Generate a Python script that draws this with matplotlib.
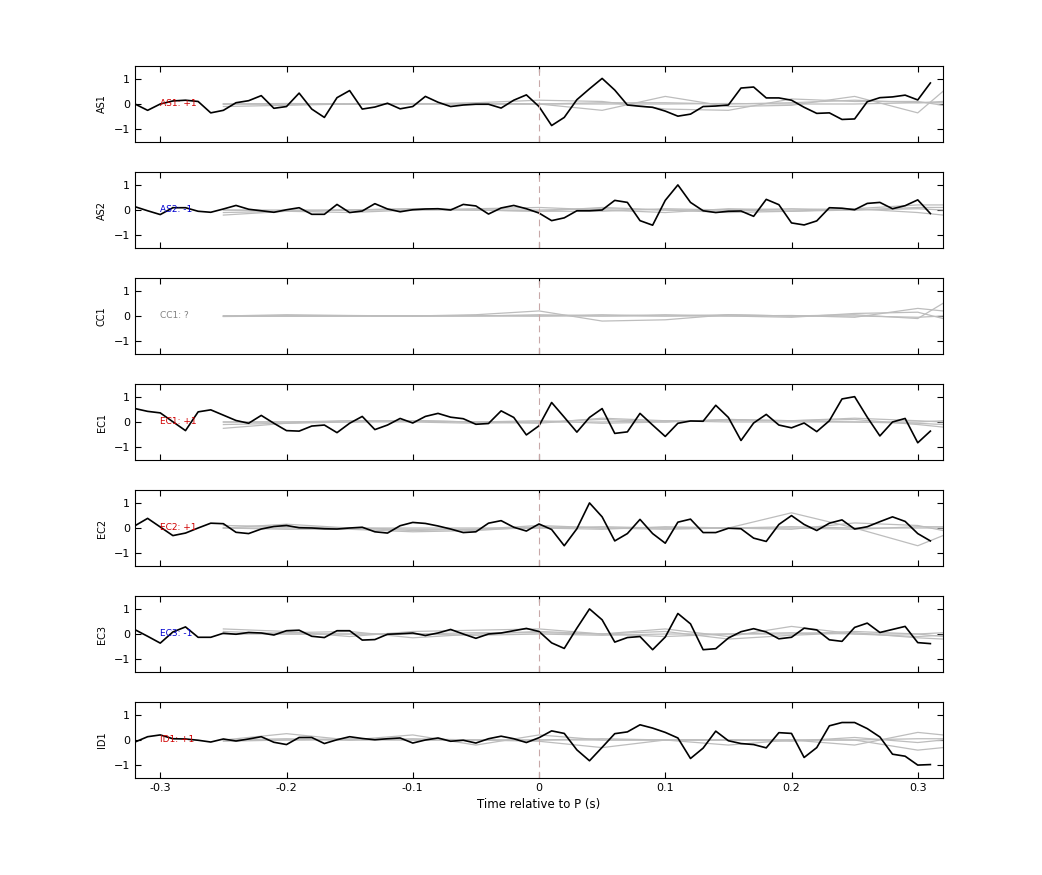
import numpy as np
import matplotlib
matplotlib.use("Agg")
import matplotlib.pyplot as plt

stations = ["AS1", "AS2", "CC1", "EC1", "EC2", "EC3", "ID1"]
labels = ["AS1: +1", "AS2: -1", "CC1: ?", "EC1: +1", "EC2: +1", "EC3: -1", "ID1: +1"]
label_colors = ["#d00000", "#0000d0", "#808080", "#d00000", "#d00000", "#0000d0", "#d00000"]

t_black = np.round(np.arange(-0.32, 0.315, 0.01), 2)

as1 = [0, -0.25, 0, 0.12, 0.15, 0.1, -0.35, -0.25, 0.05, 0.13, 0.33, -0.17, -0.1, 0.43, -0.2, -0.53,
       0.25, 0.53, -0.2, -0.12, 0.03, -0.19, -0.1, 0.3, 0.07, -0.1, -0.04, -0.01, -0.01, -0.16, 0.15, 0.36,
       -0.1, -0.85, -0.53, 0.17, 0.6, 1.01, 0.55, -0.04, -0.09, -0.13, -0.28, -0.48, -0.4, -0.1, -0.08, -0.04,
       0.63, 0.67, 0.24, 0.24, 0.15, -0.13, -0.37, -0.35, -0.61, -0.59, 0.09, 0.25, 0.28, 0.35, 0.16, 0.83]
as2 = [0.13, -0.03, -0.18, 0.09, 0.09, -0.05, -0.09, 0.04, 0.18, 0.03, -0.03, -0.09, 0.01, 0.09, -0.17, -0.17,
       0.22, -0.1, -0.04, 0.25, 0.04, -0.07, 0.01, 0.04, 0.05, 0, 0.22, 0.16, -0.16, 0.08, 0.18, 0.05,
       -0.12, -0.42, -0.31, -0.03, -0.03, 0, 0.38, 0.3, -0.42, -0.6, 0.38, 0.99, 0.3, -0.03, -0.1, -0.05,
       -0.04, -0.25, 0.42, 0.21, -0.51, -0.59, -0.43, 0.09, 0.07, 0.01, 0.26, 0.3, 0.05, 0.17, 0.4, -0.14]
ec1 = [0.53, 0.42, 0.36, 0.01, -0.34, 0.4, 0.48, 0.27, 0.06, -0.05, 0.26, -0.05, -0.34, -0.36, -0.16, -0.12,
       -0.42, -0.05, 0.22, -0.3, -0.12, 0.14, -0.04, 0.22, 0.34, 0.19, 0.13, -0.09, -0.06, 0.44, 0.18, -0.51,
       -0.15, 0.77, 0.19, -0.4, 0.18, 0.53, -0.45, -0.39, 0.34, -0.12, -0.57, -0.05, 0.04, 0.03, 0.66, 0.18,
       -0.73, -0.04, 0.3, -0.12, -0.23, -0.04, -0.38, 0.05, 0.91, 1.0, 0.19, -0.55, 0, 0.14, -0.82, -0.36]
ec2 = [0.09, 0.38, 0.04, -0.3, -0.2, 0, 0.19, 0.17, -0.17, -0.22, -0.04, 0.06, 0.1, 0.01, 0, -0.03,
       -0.04, 0, 0.03, -0.15, -0.2, 0.09, 0.22, 0.18, 0.08, -0.04, -0.18, -0.15, 0.19, 0.29, 0.03, -0.12,
       0.16, -0.06, -0.7, -0.03, 0.99, 0.44, -0.51, -0.22, 0.34, -0.22, -0.6, 0.23, 0.35, -0.18, -0.18, -0.01,
       -0.03, -0.4, -0.53, 0.14, 0.49, 0.14, -0.1, 0.19, 0.32, -0.04, 0.05, 0.25, 0.44, 0.26, -0.22, -0.51]
ec3 = [0.17, -0.09, -0.36, 0.08, 0.28, -0.13, -0.13, 0.03, -0.01, 0.06, 0.04, -0.04, 0.13, 0.15, -0.09, -0.14,
       0.13, 0.13, -0.24, -0.22, -0.01, 0.01, 0.04, -0.06, 0.04, 0.18, 0, -0.17, 0, 0.04, 0.13, 0.22,
       0.1, -0.35, -0.57, 0.23, 0.99, 0.56, -0.32, -0.14, -0.1, -0.62, -0.12, 0.81, 0.4, -0.62, -0.58, -0.16,
       0.09, 0.21, 0.08, -0.19, -0.13, 0.23, 0.16, -0.23, -0.29, 0.26, 0.43, 0.06, 0.18, 0.3, -0.34, -0.38]
id1 = [-0.08, 0.13, 0.2, 0.05, 0.04, -0.01, -0.08, 0.04, -0.04, 0.04, 0.13, -0.09, -0.18, 0.1, 0.1, -0.14,
       0.01, 0.13, 0.06, 0.01, 0.05, 0.08, -0.12, 0, 0.08, -0.05, -0.01, -0.12, 0.05, 0.15, 0.05, -0.1,
       0.09, 0.36, 0.26, -0.39, -0.82, -0.29, 0.25, 0.32, 0.6, 0.47, 0.3, 0.08, -0.73, -0.32, 0.35, -0.03,
       -0.14, -0.18, -0.31, 0.29, 0.26, -0.69, -0.3, 0.56, 0.69, 0.69, 0.45, 0.12, -0.56, -0.64, -0.99, -0.97]
black_series = [as1, as2, None, ec1, ec2, ec3, id1]

# gray comparison traces, sampled every 0.05 s from -0.25 to 0.30, plus 0.32
t_gray = [-0.25, -0.20, -0.15, -0.10, -0.05, 0.0, 0.05, 0.10, 0.15, 0.20, 0.25, 0.30, 0.32]
gray_series = [
    [[0, 0, 0, 0, 0.02, 0.0, -0.25, 0.3, -0.1, -0.05, 0.3, -0.35, 0.5],
     [0, 0, 0, 0, 0.05, 0.15, 0.1, -0.2, -0.25, 0.2, 0.1, 0.1, -0.05],
     [-0.1, -0.05, 0, 0, 0, 0, 0.0, 0.0, 0.02, 0.0, 0.0, 0.05, 0.05],
     [0, 0.02, 0, 0.02, 0, 0, 0.05, 0.05, 0.0, 0.05, 0.15, 0.05, 0.1]],
    [[-0.1, -0.05, 0, 0.05, 0, -0.05, 0.1, 0.0, -0.1, -0.05, 0.05, 0.2, 0.2],
     [0, -0.05, -0.1, 0, 0.05, 0.1, 0, -0.1, 0.05, 0.0, 0.05, -0.1, -0.2],
     [-0.2, -0.05, 0, 0, 0, 0, 0.05, 0.0, 0.0, 0.05, 0.0, 0.05, 0.0],
     [0, 0, 0, 0.05, 0, -0.05, -0.05, 0.05, 0.0, -0.05, 0.0, 0.1, 0.1]],
    [[0, 0, 0, 0, 0.05, 0.2, -0.2, -0.15, 0.05, 0.0, 0.05, -0.1, 0.5],
     [0, 0.05, 0.02, 0, 0, 0, 0.05, 0.0, 0.0, -0.05, 0.1, 0.15, -0.1],
     [-0.02, 0, 0, 0, 0.02, 0.0, 0.0, 0.05, 0.0, 0.02, -0.05, 0.3, 0.2],
     [0, 0, 0, 0, 0, 0.05, 0.0, 0.0, 0.05, 0.0, 0.0, -0.05, 0.0]],
    [[-0.25, -0.05, 0.05, 0.05, 0.0, 0.0, 0.1, 0.0, 0.1, 0.05, 0.1, -0.1, -0.2],
     [0, 0, 0.05, 0.05, 0, -0.05, 0.15, 0.05, 0.05, 0.05, 0.0, 0.0, 0.05],
     [-0.1, -0.05, 0, 0.05, 0, 0.05, -0.05, 0.0, 0.1, 0.05, 0.15, 0.05, 0.0],
     [0, 0, 0, 0, -0.05, 0, 0.0, 0.05, 0.0, 0.0, 0.0, -0.05, -0.1]],
    [[0, 0.15, 0.0, -0.1, -0.05, 0.1, 0.0, -0.05, 0.0, 0.6, 0.0, -0.7, -0.3],
     [0.1, 0.05, 0.0, -0.05, -0.05, 0.0, 0.05, 0.0, 0.0, -0.05, 0.2, 0.1, -0.1],
     [0, -0.05, -0.05, -0.15, -0.1, 0.05, 0.0, 0.0, 0.0, 0.05, 0.0, 0.0, 0.0],
     [0, 0, 0, 0, 0, 0, -0.05, 0.05, 0.0, 0.0, -0.05, 0.05, 0.05]],
    [[0.2, 0.1, -0.1, 0.1, 0.15, 0.2, 0.0, 0.2, -0.1, 0.3, 0.0, -0.1, -0.05],
     [0, 0.05, 0.1, -0.15, 0, 0.1, 0.0, 0.1, -0.2, -0.05, 0.05, -0.15, -0.2],
     [0.1, 0.0, 0.0, 0.0, 0.05, 0.05, 0.0, -0.1, 0.0, 0.05, 0.0, 0.0, 0.05],
     [0, 0, 0, 0, -0.05, 0, -0.05, 0.0, 0.0, 0.0, 0.1, 0.0, -0.1]],
    [[0, 0.25, 0.0, 0.2, -0.2, 0.2, 0.0, 0.0, -0.2, 0.0, 0.0, -0.4, -0.3],
     [0, 0.05, 0.0, 0.05, 0, -0.05, -0.3, 0.0, 0.0, 0.0, -0.2, 0.3, 0.2],
     [-0.05, 0, 0.05, 0.0, 0, 0.0, 0.05, 0.0, 0.0, -0.05, 0.1, -0.1, 0.0],
     [0, 0, 0, 0, 0, 0, 0.0, 0.0, 0.0, 0.0, 0.0, 0.05, 0.05]],
]

xticks = [-0.3, -0.2, -0.1, 0, 0.1, 0.2, 0.3]
xticklabels = ["-0.3", "-0.2", "-0.1", "0", "0.1", "0.2", "0.3"]
yticks = [-1, 0, 1]

plt.rcParams['font.family'] = ['DejaVu Sans']
fig = plt.figure(figsize=(10.42, 8.75), dpi=100)
W, H = 1042, 875
tops = [66, 172, 278, 384, 490, 596, 702]
ph = 76
for i, st in enumerate(stations):
    ax = fig.add_axes([135 / W, 1 - (tops[i] + ph) / H, 808 / W, ph / H])
    for g in gray_series[i]:
        ax.plot(t_gray, g, color="#bdbdbd", lw=0.9)
    if black_series[i] is not None:
        ax.plot(t_black, black_series[i], color="black", lw=1.2)
    ax.axvline(0, color="#c8a8a8", lw=0.8, dashes=(6, 4))
    ax.text(-0.3, 0, labels[i], color=label_colors[i], fontsize=6.5, va="center", ha="left")
    ax.set_xlim(-0.32, 0.32)
    ax.set_ylim(-1.5, 1.5)
    ax.set_yticks(yticks)
    ax.set_xticks(xticks)
    ax.tick_params(direction="in", top=True, right=True, labelsize=8, length=4)
    if i == len(stations) - 1:
        ax.set_xticklabels(xticklabels)
        ax.set_xlabel("Time relative to P (s)", fontsize=8.5)
    else:
        ax.set_xticklabels([])
    ax.set_ylabel(st, fontsize=7)
    ax.yaxis.set_label_coords(-0.035, 0.5)

fig.savefig("out.png", dpi=100)
